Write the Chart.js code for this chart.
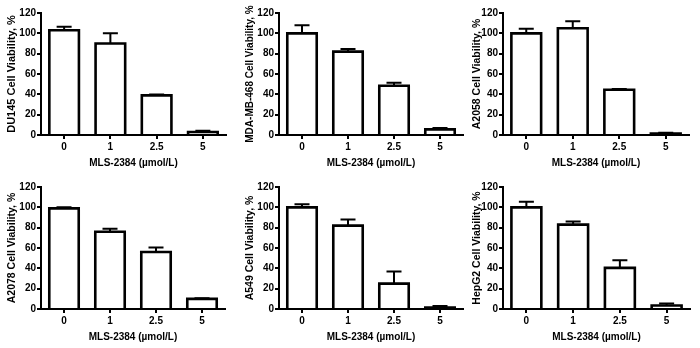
<!DOCTYPE html>
<html><head><meta charset="utf-8">
<script src="https://cdn.jsdelivr.net/npm/chart.js@4.4.0/dist/chart.umd.min.js"></script>
<style>
html,body{margin:0;padding:0;background:#fff;}
#wrap{position:relative;width:700px;height:348px;overflow:hidden;background:#fff;}
canvas{position:absolute;}
</style></head><body><div id="wrap">
<canvas id="c1" width="233" height="174" style="left:0px;top:0px"></canvas>
<canvas id="c2" width="233" height="174" style="left:233px;top:0px"></canvas>
<canvas id="c3" width="234" height="174" style="left:466px;top:0px"></canvas>
<canvas id="c4" width="233" height="174" style="left:0px;top:174px"></canvas>
<canvas id="c5" width="233" height="174" style="left:233px;top:174px"></canvas>
<canvas id="c6" width="234" height="174" style="left:466px;top:174px"></canvas>
</div>
<script>
// ---- data ----
const categories = ['0', '1', '2.5', '5'];
const xAxisTitle = 'MLS-2384 (µmol/L)';
const yTicks = [0, 20, 40, 60, 80, 100, 120];

const du145Values = [103, 90, 39, 3];
const du145Errors = [3.5, 10, 0.8, 1.3];
const mdaValues = [100, 82, 48.5, 5.5];
const mdaErrors = [8, 2.5, 3, 1.5];
const a2058Values = [100, 105, 44.5, 1.5];
const a2058Errors = [4.5, 7, 0.8, 0.8];
const a2078Values = [99, 76, 56, 10];
const a2078Errors = [1, 3, 4.5, 0.5];
const a549Values = [100, 82, 25, 1.5];
const a549Errors = [3, 6, 12, 1.5];
const hepg2Values = [100, 83, 40.5, 3.5];
const hepg2Errors = [5.5, 3, 7.5, 2];

const yTitles = ['DU145 Cell Viability, %', 'MDA-MB-468 Cell Viability, %', 'A2058 Cell Viability, %',
                 'A2078 Cell Viability, %', 'A549 Cell Viability, %', 'HepG2 Cell Viability, %'];

// ---- layout / style (not data) ----
const FONT = "'Liberation Sans', Arial, Helvetica, sans-serif";
const panels = [
  {id:'c1', t:0, v:du145Values, e:du145Errors, yw:41, pr:7,  tf:11,  tp:5.4},
  {id:'c2', t:1, v:mdaValues,   e:mdaErrors,   yw:46, pr:3,  tf:10,  tp:11},
  {id:'c3', t:2, v:a2058Values, e:a2058Errors, yw:37, pr:11, tf:10.5,tp:4.7},
  {id:'c4', t:3, v:a2078Values, e:a2078Errors, yw:41, pr:8,  tf:10.5,tp:5.7},
  {id:'c5', t:4, v:a549Values,  e:a549Errors,  yw:46, pr:3,  tf:10.5,tp:10.7},
  {id:'c6', t:5, v:hepg2Values, e:hepg2Errors, yw:37, pr:10, tf:10.5,tp:4.7}
];

// outlines centred on the bar edges (Prism style) + upper error bars
const barDecor = {
  id: 'barDecor',
  afterDatasetsDraw(chart) {
    const ctx = chart.ctx, ys = chart.scales.y;
    chart.data.datasets.forEach((ds, di) => {
      const meta = chart.getDatasetMeta(di);
      meta.data.forEach((bar, i) => {
        const half = bar.width / 2;
        const l = bar.x - half, r = bar.x + half;
        ctx.save();
        ctx.strokeStyle = '#000';
        ctx.lineJoin = 'miter';
        ctx.lineWidth = 2.6;
        ctx.beginPath();
        ctx.moveTo(l, bar.base);
        ctx.lineTo(l, bar.y);
        ctx.lineTo(r, bar.y);
        ctx.lineTo(r, bar.base);
        ctx.stroke();
        const v = ds.data[i], e = ds.errors[i];
        const yv = ys.getPixelForValue(v);
        const yt = ys.getPixelForValue(v + e);
        const cap = 15;
        ctx.lineWidth = 2;
        ctx.lineCap = 'butt';
        ctx.beginPath();
        ctx.moveTo(bar.x, yv);
        ctx.lineTo(bar.x, yt);
        ctx.moveTo(bar.x - cap / 2, yt);
        ctx.lineTo(bar.x + cap / 2, yt);
        ctx.stroke();
        ctx.restore();
      });
    });
  }
};

panels.forEach(p => {
  new Chart(document.getElementById(p.id), {
    type: 'bar',
    data: {
      labels: categories,
      datasets: [{
        data: p.v,
        errors: p.e,
        backgroundColor: '#fff',
        borderWidth: 0,
        barPercentage: 0.64,
        categoryPercentage: 1
      }]
    },
    options: {
      responsive: false,
      devicePixelRatio: 1,
      animation: false,
      layout: { padding: { left: 0, right: p.pr, top: 13, bottom: 0 } },
      plugins: { legend: { display: false }, tooltip: { enabled: false } },
      scales: {
        x: {
          offset: true,
          grid: { drawOnChartArea: false, drawTicks: true, tickLength: 4, offset: false, color: '#000', lineWidth: 2 },
          border: { display: true, color: '#000', width: 2, z: 1 },
          ticks: { color: '#000', padding: 2, font: { family: FONT, size: 10, weight: 'bold' }, maxRotation: 0 },
          title: { display: true, text: xAxisTitle, color: '#000', padding: { top: 0, bottom: 5 },
                   font: { family: FONT, size: 10, weight: 'bold', lineHeight: 1.2 } },
          afterFit(s) { s.height = 39; }
        },
        y: {
          min: yTicks[0], max: yTicks[yTicks.length - 1],
          afterBuildTicks(s) { s.ticks = yTicks.map(v => ({ value: v })); },
          grid: { drawOnChartArea: false, drawTicks: true, tickLength: 4, color: '#000', lineWidth: 2 },
          border: { display: true, color: '#000', width: 2, z: 1 },
          ticks: { color: '#000', padding: 1, font: { family: FONT, size: 10, weight: 'bold' } },
          title: { display: true, text: yTitles[p.t], color: '#000', padding: { top: p.tp, bottom: 0 },
                   font: { family: FONT, size: p.tf, weight: 'bold', lineHeight: 1.2 } },
          afterFit(s) { s.width = p.yw; }
        }
      }
    },
    plugins: [barDecor]
  });
});
</script>
</body></html>
